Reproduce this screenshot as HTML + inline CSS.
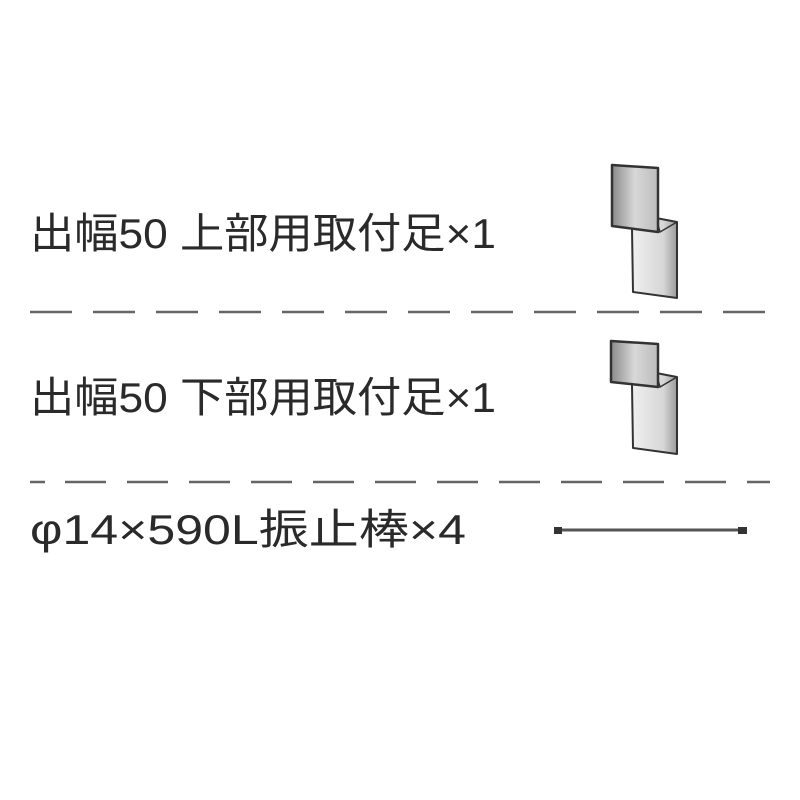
<!DOCTYPE html>
<html><head><meta charset="utf-8"><style>
html,body{margin:0;padding:0;background:#fff;}
svg{display:block}
text{font-family:"Liberation Sans","Noto Sans CJK JP",sans-serif;fill:#2a2a2a;font-size:42px}
</style></head><body>
<svg width="800" height="800" viewBox="0 0 800 800" xmlns="http://www.w3.org/2000/svg">
<defs>
<linearGradient id="g1" x1="0" x2="1" y1="0" y2="0">
<stop offset="0" stop-color="#8a8a8a"/><stop offset="0.5" stop-color="#d8d8d8"/><stop offset="1" stop-color="#bcbcbc"/>
</linearGradient>
<linearGradient id="g2" x1="0" x2="1" y1="0" y2="0">
<stop offset="0" stop-color="#f0f0f0"/><stop offset="0.7" stop-color="#d6d6d6"/><stop offset="1" stop-color="#9a9a9a"/>
</linearGradient>
</defs>
<text x="30" y="248" textLength="466" lengthAdjust="spacingAndGlyphs">出幅50 上部用取付足×1</text>
<text x="30" y="412" textLength="466" lengthAdjust="spacingAndGlyphs">出幅50 下部用取付足×1</text>
<text x="30" y="544" textLength="436" lengthAdjust="spacingAndGlyphs">φ14×590L振止棒×4</text>
<line x1="30" y1="312" x2="770" y2="312" stroke="#666" stroke-width="2.5" stroke-dasharray="42 21"/>
<line x1="30" y1="482" x2="770" y2="482" stroke="#666" stroke-width="2.5" stroke-dasharray="15 20 41 21 41 21 41 21 41 21 41 21 41 21 41 21 41 21 41 21 41 21 41 21 41 21"/>
<!-- bracket 1 -->
<polygon points="632,228 656,218 677,222 677,298 633,292" fill="url(#g2)" stroke="#333" stroke-width="2" stroke-linejoin="round"/>
<polyline points="656,218 660,232 677,222" fill="none" stroke="#333" stroke-width="1.5"/>
<polygon points="612,165 658,168 658,232 612,226" fill="url(#g1)" stroke="#333" stroke-width="2.5" stroke-linejoin="round"/>
<!-- bracket 2 -->
<polygon points="632,385 656,373 677,377 677,454 633,448" fill="url(#g2)" stroke="#333" stroke-width="2" stroke-linejoin="round"/>
<polyline points="656,373 660,387 677,377" fill="none" stroke="#333" stroke-width="1.5"/>
<polygon points="611,341 658,344 658,387 611,382" fill="url(#g1)" stroke="#333" stroke-width="2.5" stroke-linejoin="round"/>
<!-- rod -->
<line x1="556" y1="530" x2="746" y2="530" stroke="#555" stroke-width="3"/>
<rect x="554" y="527" width="8" height="7" fill="#333"/>
<rect x="738" y="527" width="9" height="7" fill="#333"/>
</svg>
</body></html>
